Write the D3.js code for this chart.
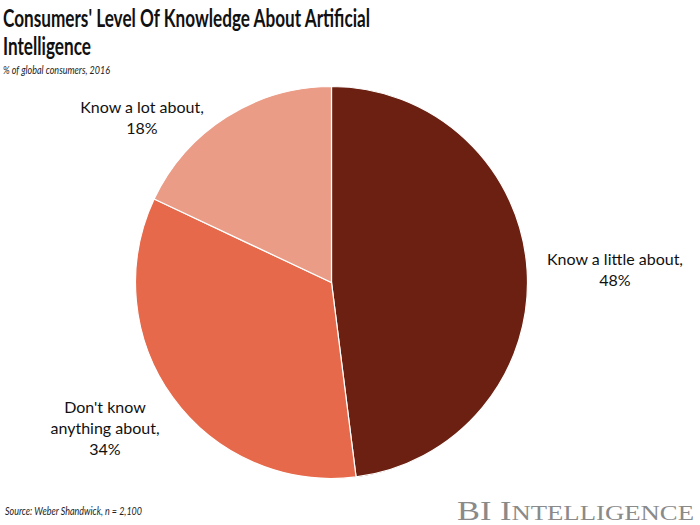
<!DOCTYPE html>
<html><head><meta charset="utf-8">
<script src="https://cdn.jsdelivr.net/npm/d3@7"></script>
<style>body{margin:0;background:#fff}svg{display:block}</style>
</head><body>
<svg id="c" width="700" height="525"></svg>
<script>
const categories = ["Know a little about,", "Don't know anything about,", "Know a lot about,"];
const values = [48, 34, 18];
const colors = ["#6B2011", "#E5694A", "#EB9C87"];
const labelLines = [["Know a little about,", "48%"], ["Don't know", "anything about,", "34%"], ["Know a lot about,", "18%"]];
const labelPos = [[615, 265], [105, 413], [142, 113]];

const svg = d3.select("#c");
const font = "Lato, 'Open Sans', sans-serif";

svg.append("text").attr("x", 3).attr("y", 27).attr("font-family", font).attr("font-weight", 700)
  .attr("font-size", 25.5).attr("fill", "#111").attr("textLength", 367).attr("lengthAdjust", "spacingAndGlyphs")
  .text("Consumers' Level Of Knowledge About Artificial");
svg.append("text").attr("x", 3).attr("y", 55).attr("font-family", font).attr("font-weight", 700)
  .attr("font-size", 25.5).attr("fill", "#111").attr("textLength", 88).attr("lengthAdjust", "spacingAndGlyphs")
  .text("Intelligence");
svg.append("text").attr("x", 3).attr("y", 74).attr("font-family", font).attr("font-style", "italic")
  .attr("font-size", 11.5).attr("fill", "#222").attr("textLength", 107).attr("lengthAdjust", "spacingAndGlyphs")
  .text("% of global consumers, 2016");

const cx = 331.5, cy = 282.5, r = 196;
const pie = d3.pie().sort(null).value(d => d);
const arc = d3.arc().innerRadius(0).outerRadius(r);
const g = svg.append("g").attr("transform", `translate(${cx},${cy})`);
g.selectAll("path").data(pie(values)).join("path")
  .attr("d", arc).attr("fill", (d, i) => colors[i])
  .attr("stroke", "#fff").attr("stroke-width", 1.2);

labelLines.forEach((lines, i) => {
  const t = svg.append("text").attr("text-anchor", "middle").attr("font-family", font)
    .attr("font-size", 16).attr("fill", "#111");
  lines.forEach((l, j) => {
    t.append("tspan").attr("x", labelPos[i][0]).attr("y", labelPos[i][1] + j * 21).text(l);
  });
});

svg.append("text").attr("x", 5).attr("y", 515).attr("font-family", font).attr("font-style", "italic")
  .attr("font-size", 11.5).attr("fill", "#222").attr("textLength", 137).attr("lengthAdjust", "spacingAndGlyphs")
  .text("Source: Weber Shandwick, n = 2,100");

const bi = svg.append("text").attr("x", 457).attr("y", 520).attr("font-family", "'Liberation Serif', serif")
  .attr("fill", "#8a8a8a").attr("textLength", 237).attr("lengthAdjust", "spacingAndGlyphs");
bi.append("tspan").attr("font-size", 27).text("BI I");
bi.append("tspan").attr("font-size", 21).text("NTELLIGENCE");
</script>
</body></html>
